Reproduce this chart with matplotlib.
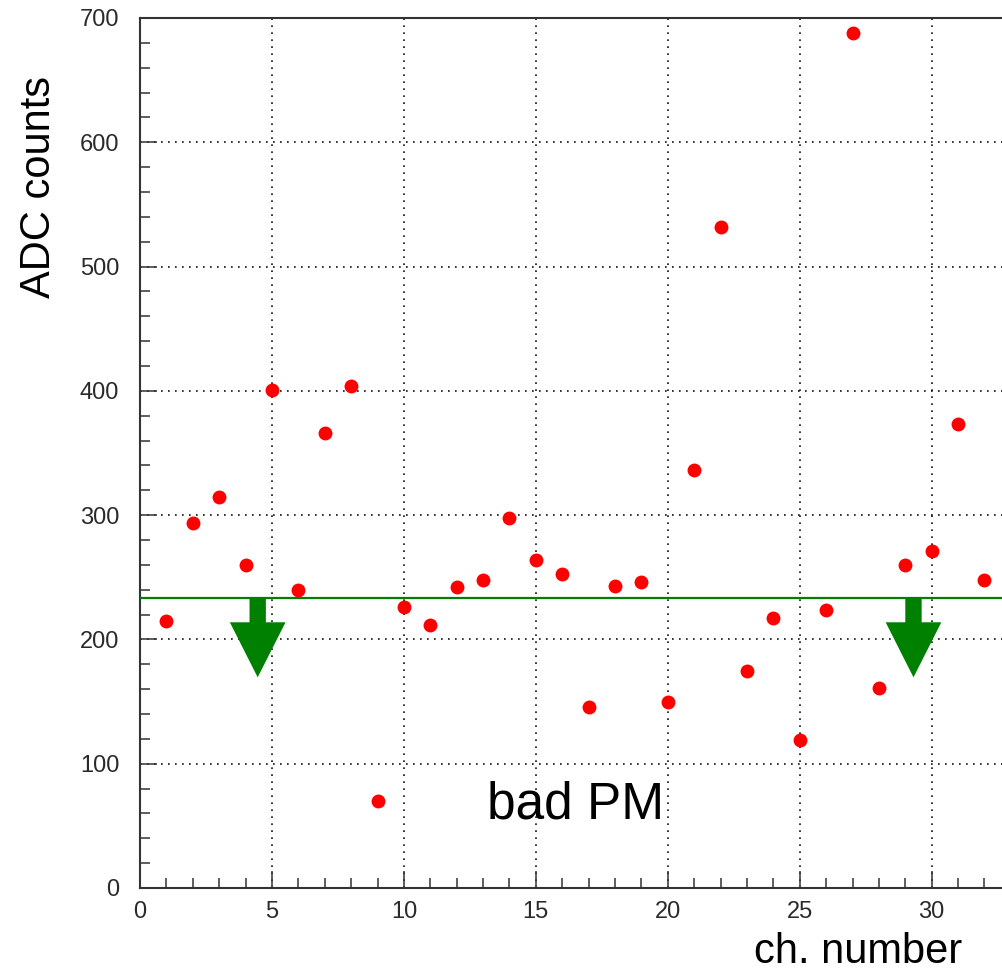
import matplotlib
matplotlib.use("Agg")
import matplotlib.pyplot as plt
from matplotlib.patches import FancyArrow
from matplotlib.ticker import MultipleLocator

plt.rcParams['font.family'] = ['Liberation Sans', 'DejaVu Sans']

channels = list(range(1, 33))
adc_counts = [215, 294, 315, 260, 401, 240, 366, 404, 70, 226, 212, 242, 248, 298,
              264, 253, 146, 243, 246, 150, 336, 532, 175, 217, 119, 224, 688, 161,
              260, 271, 373, 248]
threshold = 233
bad_arrow_x = [4.46, 29.31]
arrow_tip = 169.5
x_ticks = [0, 5, 10, 15, 20, 25, 30]
y_ticks = [0, 100, 200, 300, 400, 500, 600, 700]

W, H = 1003, 973
fig = plt.figure(figsize=(W / 100, H / 100), dpi=100)
px_per_x = 26.39
xmax = 34
ax = fig.add_axes([140 / W, 1 - 888 / H, xmax * px_per_x / W, (888 - 18) / H])
ax.set_xlim(0, xmax)
ax.set_ylim(0, 700)

ax.set_xticks(x_ticks)
ax.set_yticks(y_ticks)
ax.xaxis.set_minor_locator(MultipleLocator(1))
ax.yaxis.set_minor_locator(MultipleLocator(20))
ax.tick_params(axis='both', which='both', direction='in', colors='#333333',
               labelcolor='#2a2a2a', labelsize=17, top=False, right=False)
ax.tick_params(axis='both', which='major', length=12, width=1.1)
ax.tick_params(axis='both', which='minor', length=7, width=1.1)
ax.tick_params(axis='x', which='major', pad=9)
ax.tick_params(axis='y', which='major', pad=15)
for s in ax.spines.values():
    s.set_color('#333333')
    s.set_linewidth(1.5)

ax.grid(True, which='major', color='#111111', linewidth=1.2,
        linestyle=(0, (1, 3.2)))
ax.set_axisbelow(True)

ax.plot(channels, adc_counts, 'o', color='red', markersize=10, zorder=5,
        markeredgewidth=0)

ax.axhline(threshold, color='green', linewidth=1.6, zorder=4)
for xa in bad_arrow_x:
    ax.add_patch(FancyArrow(xa, threshold, 0, arrow_tip - threshold,
                            width=0.62, head_width=2.11, head_length=44.3,
                            length_includes_head=True, color='green',
                            linewidth=0, zorder=4))

ax.text(16.5, 56, 'bad PM', fontsize=37, ha='center', va='baseline', color='black')

fig.text(962 / W, 1 - 963 / H, 'ch. number', fontsize=30, ha='right',
         va='baseline', color='black')
fig.text(59 / W, 1 - 187 / H, 'ADC counts', fontsize=30, rotation=90,
         ha='right', va='center', color='black')

fig.savefig('out.png', dpi=100)
